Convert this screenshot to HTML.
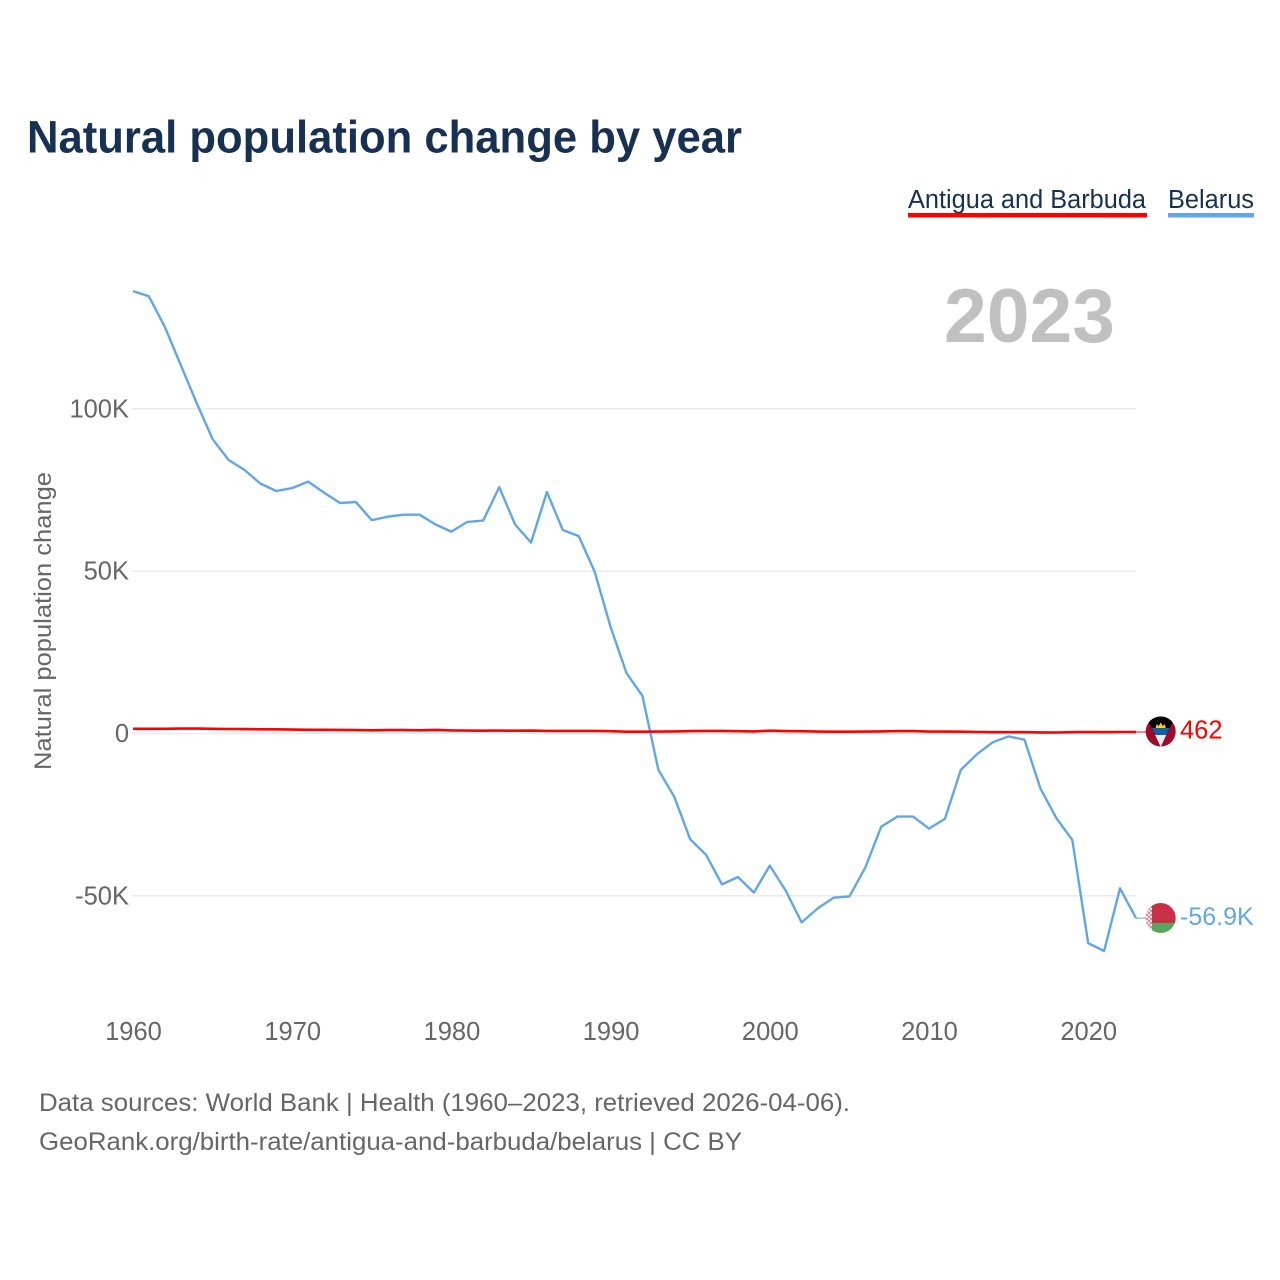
<!DOCTYPE html>
<html lang="en">
<head>
<meta charset="utf-8">
<title>Natural population change by year</title>
<style>
html,body{margin:0;padding:0;background:#fff;}
svg{display:block;}
text{font-family:"Liberation Sans",Arial,sans-serif;}
</style>
</head>
<body>
<svg id="chart" xmlns="http://www.w3.org/2000/svg" width="1280" height="1280" viewBox="0 0 1280 1280">
  <defs>
    <clipPath id="clip-ag"><circle cx="1160.7" cy="731.5" r="15"/></clipPath>
    <clipPath id="clip-by"><circle cx="1160.7" cy="918" r="15"/></clipPath>
    <pattern id="by-ornament" width="4" height="4" patternUnits="userSpaceOnUse">
      <rect width="4" height="4" fill="#f4e4e4"/>
      <rect x="0" y="0" width="2" height="2" fill="#d98a92"/>
      <rect x="2" y="2" width="2" height="2" fill="#d98a92"/>
    </pattern>
  </defs>
  <rect width="1280" height="1280" fill="#ffffff"/>
  <text x="27" y="152.5" font-size="45" font-weight="700" fill="#173152" textLength="715" lengthAdjust="spacingAndGlyphs">Natural population change by year</text>

  <g>
    <text x="908" y="208" font-size="25.5" fill="#173152" textLength="238" lengthAdjust="spacingAndGlyphs">Antigua and Barbuda</text>
    <rect x="908" y="213" width="239" height="4.5" fill="#ff0000"/>
  </g>
  <g>
    <text x="1168" y="208" font-size="25.5" fill="#173152" textLength="86" lengthAdjust="spacingAndGlyphs">Belarus</text>
    <rect x="1168" y="213" width="86" height="4.5" fill="#62a6ea"/>
  </g>

  <text x="944" y="342" font-size="76" font-weight="700" fill="#c0c0c0" textLength="171" lengthAdjust="spacingAndGlyphs">2023</text>
  <text transform="translate(51,770) rotate(-90)" font-size="24.5" fill="#666666" textLength="298" lengthAdjust="spacingAndGlyphs">Natural population change</text>

  <g id="grid"></g>
  <g id="y-ticks"></g>
  <g id="x-ticks"></g>
  <g id="series"></g>

  <g clip-path="url(#clip-ag)">
    <rect x="1145" y="716" width="31" height="31" fill="#a10a28"/>
    <polygon points="1145.7,716 1175.7,716 1160.7,747" fill="#000000"/>
    <polygon points="1151.7,728 1169.7,728 1166.3,735 1155.1,735" fill="#0f5db0"/>
    <polygon points="1155.1,735 1166.3,735 1160.7,747" fill="#eeeeee"/>
    <polygon points="1155.7,728 1156.7,724 1158.7,726 1160.7,722.5 1162.7,726 1164.7,724 1165.7,728" fill="#fcd116"/>
  </g>
  <g clip-path="url(#clip-by)">
    <rect x="1145" y="903" width="31" height="20" fill="#ca3045"/>
    <rect x="1145" y="923" width="31" height="10" fill="#55a85b"/>
    <rect x="1145" y="903" width="7" height="30" fill="url(#by-ornament)"/>
  </g>

  <g id="end-labels"></g>

  <text x="39" y="1111" font-size="25" fill="#666666" textLength="811" lengthAdjust="spacingAndGlyphs">Data sources: World Bank | Health (1960–2023, retrieved 2026-04-06).</text>
  <text x="39" y="1150" font-size="25" fill="#666666" textLength="703" lengthAdjust="spacingAndGlyphs">GeoRank.org/birth-rate/antigua-and-barbuda/belarus | CC BY</text>
</svg>
<script>
const startYear = 1960;
const xTickYears = [1960, 1970, 1980, 1990, 2000, 2010, 2020];
const yTickValues = [100, 50, 0, -50];
const yTickLabels = ["100K", "50K", "0", "-50K"];
const belarusValues = [136.3,134.7,125.3,113.5,101.8,90.7,84.3,81.2,77.0,74.7,75.6,77.6,74.2,71.0,71.3,65.7,66.8,67.4,67.4,64.4,62.2,65.2,65.6,75.9,64.4,58.8,74.4,62.7,60.8,49.8,32.8,18.6,11.6,-11.2,-19.5,-32.6,-37.4,-46.5,-44.2,-49.0,-40.7,-48.4,-58.2,-53.9,-50.6,-50.2,-41.3,-28.7,-25.6,-25.6,-29.3,-26.3,-11.2,-6.4,-2.7,-0.9,-1.9,-16.9,-26.1,-32.8,-64.6,-67.0,-47.7,-56.9];
const antiguaValues = [1.45,1.45,1.45,1.5,1.5,1.45,1.4,1.35,1.3,1.3,1.2,1.15,1.15,1.1,1.05,1.0,1.05,1.05,1.0,1.1,0.95,0.9,0.85,0.9,0.85,0.9,0.8,0.8,0.8,0.8,0.7,0.55,0.55,0.6,0.65,0.75,0.8,0.8,0.7,0.65,0.85,0.75,0.7,0.6,0.55,0.55,0.6,0.65,0.75,0.75,0.6,0.6,0.55,0.45,0.4,0.4,0.4,0.35,0.3,0.4,0.45,0.4,0.45,0.46];
const belarusEndLabel = "-56.9K";
const antiguaEndLabel = "462";

const NS = "http://www.w3.org/2000/svg";
function xScale(year) { return 133 + (year - 1960) * 15.92; }
function yScale(value) { return 733.5 - value * 3.246; }
function linePoints(values) {
  return values.map(function (v, i) { return xScale(startYear + i).toFixed(1) + "," + yScale(v).toFixed(1); }).join(" ");
}
function makeText(parent, x, y, size, fill, anchor, content) {
  const t = document.createElementNS(NS, "text");
  t.setAttribute("x", x);
  t.setAttribute("y", y);
  t.setAttribute("font-size", size);
  t.setAttribute("fill", fill);
  t.setAttribute("text-anchor", anchor);
  t.textContent = content;
  parent.appendChild(t);
  return t;
}

const gridGroup = document.getElementById("grid");
const yTickGroup = document.getElementById("y-ticks");
yTickValues.forEach(function (v, i) {
  const g = document.createElementNS(NS, "line");
  g.setAttribute("x1", xScale(1960) - 1);
  g.setAttribute("x2", xScale(2023));
  g.setAttribute("y1", yScale(v));
  g.setAttribute("y2", yScale(v));
  g.setAttribute("stroke", "#eaeaea");
  g.setAttribute("stroke-width", "1.5");
  
  
  gridGroup.appendChild(g);
  const t = makeText(yTickGroup, 129, yScale(v) + 8.5, 25.5, "#666666", "end", yTickLabels[i]);
  
  
});

const xTickGroup = document.getElementById("x-ticks");
xTickYears.forEach(function (year) {
  const t = makeText(xTickGroup, xScale(year) + 0.5, 1040, 25.5, "#666666", "middle", String(year));
  
  
});

const seriesGroup = document.getElementById("series");
const lastIndex = belarusValues.length - 1;

const belarusLine = document.createElementNS(NS, "polyline");
belarusLine.setAttribute("points", linePoints(belarusValues));
belarusLine.setAttribute("fill", "none");
belarusLine.setAttribute("stroke", "#62a6ea");
belarusLine.setAttribute("stroke-width", "2.4");
belarusLine.setAttribute("stroke-linejoin", "round");


seriesGroup.appendChild(belarusLine);

const antiguaLine = document.createElementNS(NS, "polyline");
antiguaLine.setAttribute("points", linePoints(antiguaValues));
antiguaLine.setAttribute("fill", "none");
antiguaLine.setAttribute("stroke", "#ff0000");
antiguaLine.setAttribute("stroke-width", "2.6");
antiguaLine.setAttribute("stroke-linejoin", "round");


seriesGroup.appendChild(antiguaLine);

const belarusLeader = document.createElementNS(NS, "line");
belarusLeader.setAttribute("x1", xScale(2023));
belarusLeader.setAttribute("x2", 1146);
belarusLeader.setAttribute("y1", yScale(belarusValues[lastIndex]));
belarusLeader.setAttribute("y2", yScale(belarusValues[lastIndex]));
belarusLeader.setAttribute("stroke", "#62a6ea");
belarusLeader.setAttribute("stroke-width", "1");


seriesGroup.appendChild(belarusLeader);

const antiguaLeader = document.createElementNS(NS, "line");
antiguaLeader.setAttribute("x1", xScale(2023));
antiguaLeader.setAttribute("x2", 1146);
antiguaLeader.setAttribute("y1", yScale(antiguaValues[lastIndex]));
antiguaLeader.setAttribute("y2", yScale(antiguaValues[lastIndex]));
antiguaLeader.setAttribute("stroke", "#ff0000");
antiguaLeader.setAttribute("stroke-width", "1");


seriesGroup.appendChild(antiguaLeader);

const endGroup = document.getElementById("end-labels");
const antiguaLabel = makeText(endGroup, 1180, yScale(antiguaValues[lastIndex]) + 6.5, 25.5, "#ff0000", "start", antiguaEndLabel);


const belarusLabel = makeText(endGroup, 1180, yScale(belarusValues[lastIndex]) + 7, 25, "#62a6ea", "start", belarusEndLabel);


</script>
</body>
</html>
